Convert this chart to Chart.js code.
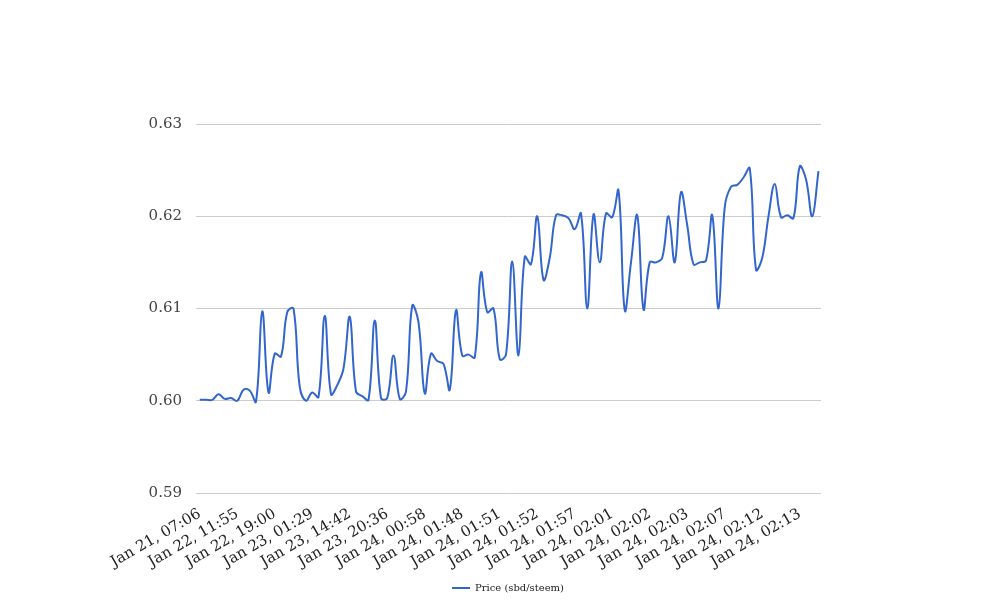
<!DOCTYPE html>
<html>
<head>
<meta charset="utf-8">
<script src="https://cdn.jsdelivr.net/npm/chart.js@4/dist/chart.umd.min.js"></script>
<style>
  body { margin: 0; background: #fff; }
</style>
</head>
<body>
<canvas id="grafico" width="1008" height="616"></canvas>
<script>
// labels shown on the x axis (one every 6 points)
const tickLabels = [
  'Jan 21, 07:06', 'Jan 22, 11:55', 'Jan 22, 19:00', 'Jan 23, 01:29',
  'Jan 23, 14:42', 'Jan 23, 20:36', 'Jan 24, 00:58', 'Jan 24, 01:48',
  'Jan 24, 01:51', 'Jan 24, 01:52', 'Jan 24, 01:57', 'Jan 24, 02:01',
  'Jan 24, 02:02', 'Jan 24, 02:03', 'Jan 24, 02:07', 'Jan 24, 02:12',
  'Jan 24, 02:13'
];
const labelEvery = 6;

// price sbd/steem
const prices = [
  0.6001, 0.6001, 0.6001, 0.6007, 0.6002, 0.6003, 0.6000, 0.6012, 0.6011, 0.5999,
  0.6097, 0.6009, 0.6051, 0.6048, 0.6096, 0.6100, 0.6015, 0.6000, 0.6009, 0.6004,
  0.6092, 0.6007, 0.6017, 0.6035, 0.6091, 0.6010, 0.6005, 0.6001, 0.6087, 0.6003,
  0.6003, 0.6049, 0.6002, 0.6010, 0.6103, 0.6085, 0.6008, 0.6051, 0.6043, 0.6040,
  0.6012, 0.6098, 0.6049, 0.6050, 0.6047, 0.6139, 0.6096, 0.6100, 0.6045, 0.6050,
  0.6151, 0.6049, 0.6156, 0.6148, 0.6200, 0.6131, 0.6155, 0.6201, 0.6201, 0.6198,
  0.6186, 0.6203, 0.6100, 0.6202, 0.6150, 0.6203, 0.6199, 0.6228, 0.6098, 0.6150,
  0.6201, 0.6099, 0.6150, 0.6150, 0.6155, 0.6200, 0.6150, 0.6226, 0.6190, 0.6148,
  0.6150, 0.6152, 0.6201, 0.6100, 0.6210, 0.6232, 0.6234, 0.6242, 0.6252, 0.6142,
  0.6155, 0.6200, 0.6235, 0.6199, 0.6201, 0.6198, 0.6254, 0.6240, 0.6200, 0.6249
];

const yMin = 0.59, yMax = 0.63, yStep = 0.01;
const fuente = 'DejaVu Serif';

const puntos = prices.map((p, i) => ({ x: i, y: p }));

const ctx = document.getElementById('grafico').getContext('2d');
new Chart(ctx, {
  type: 'line',
  data: {
    datasets: [{
      label: 'Price (sbd/steem)',
      data: puntos,
      borderColor: '#3366cc',
      backgroundColor: '#3366cc',
      borderWidth: 2,
      tension: 0.4,
      pointRadius: 0,
      fill: false
    }]
  },
  options: {
    responsive: false,
    animation: false,
    layout: { padding: { left: 8, top: 124, right: 0, bottom: 13 } },
    plugins: {
      legend: {
        display: true,
        position: 'bottom',
        labels: {
          usePointStyle: true,
          pointStyle: 'line',
          pointStyleWidth: 18,
          padding: 10,
          color: '#222',
          font: { family: fuente, size: 10 }
        }
      },
      tooltip: { enabled: false }
    },
    scales: {
      x: {
        type: 'linear',
        min: -0.6,
        max: prices.length - 0.6,
        grid: { display: false },
        border: { display: false },
        afterBuildTicks: (axis) => {
          axis.ticks = tickLabels.map((_, k) => ({ value: k * labelEvery }));
        },
        afterFit: (axis) => { axis.height = 80; },
        ticks: {
          autoSkip: false,
          minRotation: 30,
          maxRotation: 30,
          padding: 4,
          color: '#222',
          font: { family: fuente, size: 15 },
          callback: (v) => tickLabels[Math.round(v / labelEvery)]
        }
      },
      y: {
        min: yMin,
        max: yMax,
        border: { display: false },
        grid: { color: '#cccccc', drawTicks: false },
        afterFit: (axis) => { axis.width = 188; },
        ticks: {
          stepSize: yStep,
          padding: 14,
          color: '#444',
          font: { family: fuente, size: 15 },
          callback: (v) => v.toFixed(2)
        }
      },
      // empty right axis, only keeps the white space on the right
      derecha: {
        position: 'right',
        min: yMin,
        max: yMax,
        grid: { display: false },
        border: { display: false },
        ticks: { display: false },
        afterFit: (axis) => { axis.width = 187; }
      }
    }
  }
});
</script>
</body>
</html>
